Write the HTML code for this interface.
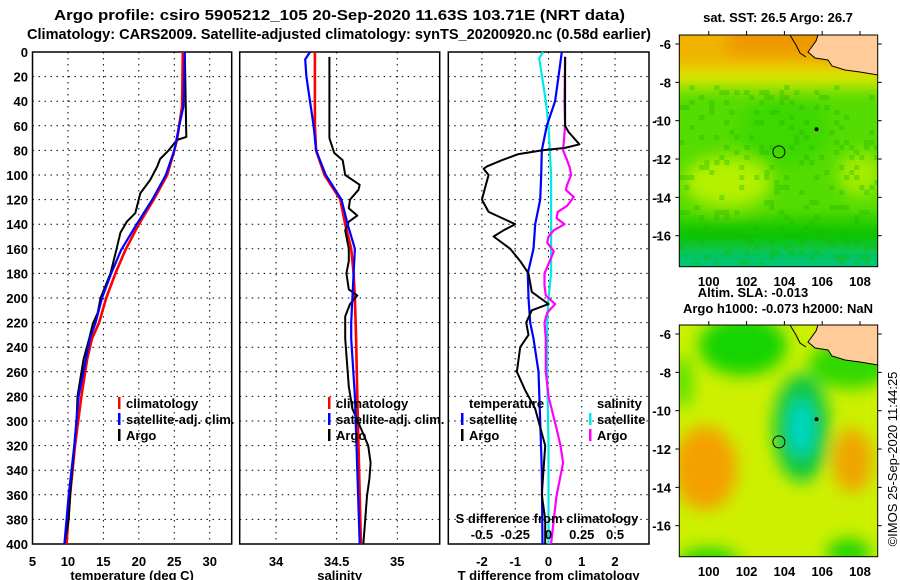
<!DOCTYPE html>
<html><head><meta charset="utf-8"><style>
html,body{margin:0;padding:0;background:#fff;}
svg{display:block;font-family:"Liberation Sans",sans-serif;}
</style></head><body>
<svg id="chart" width="900" height="580" viewBox="0 0 900 580" xmlns="http://www.w3.org/2000/svg">
<defs>
<filter id="bl" x="-20%" y="-20%" width="140%" height="140%"><feGaussianBlur stdDeviation="8"/></filter>
<clipPath id="c1"><rect x="679.3" y="35" width="198.4" height="231.7"/></clipPath>
<clipPath id="c2"><rect x="679.3" y="325" width="198.4" height="231.7"/></clipPath>
</defs>
<text x="54" y="20" font-size="15" font-weight="bold" textLength="571" lengthAdjust="spacingAndGlyphs">Argo profile: csiro 5905212_105 20-Sep-2020 11.63S 103.71E (NRT data)</text>
<text x="27" y="39" font-size="15" font-weight="bold" textLength="624" lengthAdjust="spacingAndGlyphs">Climatology: CARS2009. Satellite-adjusted climatology: synTS_20200920.nc (0.58d earlier)</text>
<g id="plots"></g>
<g id="maps"></g>
<text transform="translate(897,459) rotate(-90)" text-anchor="middle" font-size="13">©IMOS 25-Sep-2020 11:44:25</text>
</svg>
<script>
// ---- data ----
const depthTicks = [0,20,40,60,80,100,120,140,160,180,200,220,240,260,280,300,320,340,360,380,400];
const tempTicks = [5,10,15,20,25,30];
const salTicks = [34,34.5,35];
const salTickLabels = ["34","34.5","35"];
const diffTicks = [-2,-1,0,1,2];
const sDiffTicks = [-0.5,-0.25,0,0.25,0.5];
const sDiffTickLabels = ["-0.5","-0.25","0","0.25","0.5"];

const tClimDepth = [0,44,71,80,100,120,140,161,180,200,220,233,250,280,320,360,400];
const tClimVal = [26.2,26.1,25.4,25.0,24.0,22.1,20.0,18.1,16.7,15.4,14.4,13.4,12.7,11.9,11.0,10.3,9.8];
const tSatDepth = [0,44,60,80,100,120,140,161,180,200,220,233,280,320,360,400];
const tSatVal = [26.5,26.3,25.7,25.0,23.8,21.9,19.7,17.5,16.1,14.8,13.9,13.1,11.5,10.9,10.1,9.5];
const tArgoDepth = [4,69,71.5,80,87,93,104,115,131,138,147,164,180,200,212,221,233,250,280,300,320,340,360,380,400];
const tArgoVal = [26.5,26.7,25.4,24.2,23.0,22.6,21.6,20.2,19.5,18.3,17.4,16.7,16.0,14.6,14.2,13.5,13.0,12.2,11.35,11.2,10.9,10.6,10.3,10.1,9.5];

const sClimDepth = [0,60,80,100,120,140,160,180,200,233,280,320,400];
const sClimVal = [34.32,34.32,34.33,34.40,34.53,34.57,34.62,34.64,34.65,34.66,34.67,34.68,34.70];
const sSatDepth = [0,6,20,40,60,80,100,120,140,160,180,200,220,233,280,340,400];
const sSatVal = [34.28,34.24,34.25,34.28,34.31,34.33,34.41,34.54,34.59,34.65,34.64,34.63,34.62,34.62,34.65,34.67,34.69];
const sArgoDepth = [4,70,82,88,100,108,112,120,127,133,138,145,160,170,180,193,198,205,215,233,272,290,306,320,334,347,361,388,400];
const sArgoVal = [34.44,34.44,34.48,34.55,34.57,34.69,34.68,34.61,34.60,34.67,34.60,34.57,34.60,34.60,34.58,34.60,34.67,34.61,34.57,34.57,34.60,34.63,34.70,34.76,34.78,34.77,34.75,34.73,34.72];

const dTSatDepth = [0,20,40,60,80,100,120,140,160,180,200,220,233,260,300,340,400];
const dTSatVal = [0.40,0.30,0.20,-0.05,-0.20,-0.22,-0.25,-0.40,-0.45,-0.62,-0.60,-0.55,-0.45,-0.30,-0.25,-0.20,-0.18];
const dSSatDepth = [0,5,40,60,100,140,180,200,220,260,320,400];
const dSSatVal = [-0.04,-0.07,-0.02,0,0.02,0.02,0.02,0,-0.01,-0.01,0,0];
const dSArgoDepth = [4,40,60,80,88,94,100,108,112,118,125,130,135,140,145,150,155,162,170,180,190,198,205,212,220,233,260,280,306,320,334,361,380,400];
const dSArgoVal = [0.125,0.12,0.125,0.11,0.14,0.16,0.17,0.14,0.13,0.19,0.14,0.07,0.06,0.12,0.04,0.0,-0.01,0.04,0.01,-0.03,-0.03,-0.02,0.05,-0.01,-0.03,-0.02,-0.02,0,0.06,0.09,0.11,0.06,0.04,0.02];
const dTArgoDepth = [4,60,65,75,78,80,83,88,93,95,100,110,120,130,140,145,150,160,170,180,195,200,205,210,220,230,240,260,275,290,300,320,340,360,380,400];
const dTArgoVal = [0.5,0.5,0.6,0.93,0.5,-0.2,-0.9,-1.4,-1.85,-1.95,-1.8,-1.9,-2.0,-1.8,-1.0,-1.35,-1.65,-1.15,-0.85,-0.6,-0.5,-0.25,0,-0.5,-0.67,-0.6,-0.85,-0.95,-0.7,-0.4,-0.3,-0.1,-0.15,-0.2,-0.1,-0.1];

const mapLatTicks = [-6,-8,-10,-12,-14,-16];
const mapLonTicks = [100,102,104,106,108];
const argoLon = 103.71, argoLat = -11.63;

// ---- helpers ----
const NS = "http://www.w3.org/2000/svg";
function mk(tag, attrs, parent){const e=document.createElementNS(NS,tag);for(const k in attrs)e.setAttribute(k,attrs[k]);parent.appendChild(e);return e;}
const plots = document.getElementById('plots');
const TOP=52, BOT=544;
const yD = d => TOP + d*(BOT-TOP)/400;

const panels = [
 {name:'temperature', x0:32.5, x1:231.7, lo:5, hi:33.1, ticks:tempTicks, labels:tempTicks.map(String), xlabel:'temperature (deg C)'},
 {name:'salinity', x0:239.7, x1:439.7, lo:33.70, hi:35.35, ticks:salTicks, labels:salTickLabels, xlabel:'salinity'},
 {name:'difference', x0:448.3, x1:649, lo:-3.01, hi:3.02, ticks:diffTicks, labels:diffTicks.map(String), xlabel:'T difference from climatology'}
];
panels.forEach(p=>{ p.sx = v => p.x0 + (v-p.lo)*(p.x1-p.x0)/(p.hi-p.lo); });

panels.forEach((p,i)=>{
  const g = mk('g',{},plots);
  
  
  depthTicks.forEach(d=>{
    if(d>0 && d<400){
      const l=mk('line',{x1:p.x0,x2:p.x1,y1:yD(d),y2:yD(d),stroke:'#000','stroke-width':1,'stroke-dasharray':'1.5,4.5'},g);
      
      
    }
  });
  p.ticks.forEach((t,j)=>{
    const x=p.sx(t);
    if(x>p.x0+1 && x<p.x1-1){
      const l=mk('line',{x1:x,x2:x,y1:TOP,y2:BOT,stroke:'#000','stroke-width':1,'stroke-dasharray':'1.5,4.5'},g);
      
      
    }
    const tx=mk('text',{x:x,y:566,'text-anchor':'middle','font-size':13,'font-weight':'bold'},g);
    tx.textContent=p.labels[j];
    
    
  });
  const fr=mk('rect',{x:p.x0,y:TOP,width:p.x1-p.x0,height:BOT-TOP,fill:'none',stroke:'#000','stroke-width':1.5},g);
  
  
  const xl=mk('text',{x:(p.x0+p.x1)/2,y:580,'text-anchor':'middle','font-size':13,'font-weight':'bold'},g);
  xl.textContent=p.xlabel;
  
  
});
depthTicks.forEach(d=>{
  const t=mk('text',{x:28,y:yD(d)+5,'text-anchor':'end','font-size':13,'font-weight':'bold'},plots);
  t.textContent=String(d);
  
  
});

function series(p, depths, vals, color, name, w){
  const pts = depths.map((d,i)=>p.sx(vals[i]).toFixed(1)+','+yD(d).toFixed(1)).join(' ');
  const pl = mk('polyline',{points:pts,fill:'none',stroke:color,'stroke-width':w||2.2,'stroke-linejoin':'round'},plots);
  
  
}
const P1=panels[0],P2=panels[1],P3=panels[2];
series(P1,tClimDepth,tClimVal,'#ff0000','temp-climatology-line',2.6);
series(P1,tArgoDepth,tArgoVal,'#000','temp-argo-line',2);
series(P1,tSatDepth,tSatVal,'#0000ff','temp-satellite-line',2.2);
series(P2,sClimDepth,sClimVal,'#ff0000','sal-climatology-line',2.6);
series(P2,sArgoDepth,sArgoVal,'#000','sal-argo-line',2);
series(P2,sSatDepth,sSatVal,'#0000ff','sal-satellite-line',2.2);
const P3s = {sx: v => P3.sx(v*4)};
series(P3s,dSSatDepth,dSSatVal,'#00e8e8','s-diff-satellite-line',2.2);
series(P3s,dSArgoDepth,dSArgoVal,'#ff00ff','s-diff-argo-line',2.2);
series(P3,dTSatDepth,dTSatVal,'#0000ff','t-diff-satellite-line',2.2);
series(P3,dTArgoDepth,dTArgoVal,'#000','t-diff-argo-line',2);

const sdt=mk('text',{x:547,y:523,'text-anchor':'middle','font-size':13,'font-weight':'bold'},plots);
sdt.textContent='S difference from climatology';


sDiffTicks.forEach((s,j)=>{
  const t=mk('text',{x:P3s.sx(s),y:539,'text-anchor':'middle','font-size':13,'font-weight':'bold'},plots);
  t.textContent=sDiffTickLabels[j];
  
  
});
[121,160,199,237].forEach(y=>{
  const l=mk('line',{x1:655,x2:659,y1:y,y2:y,stroke:'#000','stroke-width':1},plots);
  
  
});

function legend(x,y,color,label){
  const g=mk('g',{},plots);
  
  
  if(color) mk('rect',{x:x,y:y-11,width:2.5,height:12,fill:color},g);
  const t=mk('text',{x:x+8,y:y,'font-size':13,'font-weight':'bold'},g);
  t.textContent=label;
}
[[118,'#ff0000','climatology'],[118,'#0000ff','satellite-adj. clim.'],[118,'#000','Argo']].forEach((e,i)=>legend(e[0],408+i*16,e[1],e[2]));
[[328,'#ff0000','climatology'],[328,'#0000ff','satellite-adj. clim.'],[328,'#000','Argo']].forEach((e,i)=>legend(e[0],408+i*16,e[1],e[2]));
legend(461,408,null,'temperature');
legend(461,424,'#0000ff','satellite');
legend(461,440,'#000','Argo');
legend(589,408,null,'salinity');
legend(589,424,'#00e8e8','satellite');
legend(589,440,'#ff00ff','Argo');

// ---- maps ----
const maps=document.getElementById('maps');
const MX0=679.3, MX1=877.7;
const mx = lon => MX0 + (lon-98.44)*18.9;
function drawMap(oy, clip, blobs, base, name, title, tY, speckle){
  const g=mk('g',{},maps);
  
  
  const my = lat => oy + 9 + (-6-lat)*19.17;
  const inner=mk('g',{'clip-path':'url(#'+clip+')'},g);
  mk('rect',{x:MX0,y:oy,width:MX1-MX0,height:231.7,fill:base},inner);
  const bg=mk('g',{filter:'url(#bl)'},inner);
  blobs.forEach(b=>{
    if(b.r) mk('rect',{x:mx(b.lon0),y:my(b.lat0),width:mx(b.lon1)-mx(b.lon0),height:my(b.lat1)-my(b.lat0),fill:b.c},bg);
    else mk('ellipse',{cx:mx(b.lon),cy:my(b.lat),rx:b.rx,ry:b.ry,fill:b.c},bg);
  });
  if(speckle){
    const sg=mk('g',{fill:'#1cb800'},inner);
    for(let i=0;i<40;i++)for(let j=10;j<46;j++){
      const h=((i*73856093)^(j*19349663))>>>0;
      if(h%7===0) mk('rect',{x:MX0+i*5,y:oy+j*5,width:5,height:5,opacity:0.35},sg);
    }
  }
  const land=[[818,0],[878,0],[878,40],[860,37],[845,35],[832,31],[828,25],[815,23],[808,17],[816,6]];
  const lp=mk('polygon',{points:land.map(p=>p[0]+','+(oy+p[1])).join(' '),fill:'#ffcc99',stroke:'#000','stroke-width':1},inner);
  
  
  mk('polyline',{points:[[790,0],[796,10],[800,18],[806,22]].map(p=>p[0]+','+(oy+p[1])).join(' '),fill:'none',stroke:'#000','stroke-width':1},inner);
  mk('circle',{cx:mx(105.7),cy:my(-10.45),r:2,fill:'#000'},inner);
  const mc=mk('circle',{cx:mx(argoLon),cy:my(argoLat),r:6,fill:'none',stroke:'#000','stroke-width':1},inner);
  
  
  mk('rect',{x:MX0,y:oy,width:MX1-MX0,height:231.7,fill:'none',stroke:'#000','stroke-width':1},g);
  mapLatTicks.forEach(l=>{
    const y=my(l);
    mk('line',{x1:MX0-4,x2:MX0,y1:y,y2:y,stroke:'#000'},g);
    mk('line',{x1:MX1,x2:MX1+4,y1:y,y2:y,stroke:'#000'},g);
    const t=mk('text',{x:671,y:y+5,'text-anchor':'end','font-size':13,'font-weight':'bold'},g);
    t.textContent=String(l);
    
    
  });
  mapLonTicks.forEach(l=>{
    const x=mx(l);
    mk('line',{x1:x,x2:x,y1:oy-4,y2:oy,stroke:'#000'},g);
    const t=mk('text',{x:x,y:oy+251,'text-anchor':'middle','font-size':13,'font-weight':'bold'},g);
    t.textContent=String(l);
    
    
  });
  const tt=mk('text',{x:778,y:tY,'text-anchor':'middle','font-size':13,'font-weight':'bold'},g);
  tt.textContent=title;
  
  
}
drawMap(35,'c1',[
  {r:1,lon0:97,lon1:110,lat0:-4,lat1:-8.3,c:'#d8e800'},
  {r:1,lon0:97,lon1:110,lat0:-4,lat1:-7.3,c:'#f0b400'},
  {r:1,lon0:101,lon1:110,lat0:-4,lat1:-6.6,c:'#ee9800'},
  {ell:1,lon:101,lat:-13.2,rx:44,ry:26,c:'#b4f000'},
  {ell:1,lon:108,lat:-12.8,rx:22,ry:22,c:'#a4ec00'},
  {ell:1,lon:104,lat:-10.5,rx:45,ry:35,c:'#3cd800'},
  {r:1,lon0:97,lon1:110,lat0:-15.2,lat1:-17,c:'#10c400'},
  {r:1,lon0:97,lon1:110,lat0:-16.9,lat1:-19,c:'#00c678'}
],'#55dc00','sst-map','sat. SST: 26.5 Argo: 26.7',22,true);
drawMap(325,'c2',[
  {ell:1,lon:99.8,lat:-13,rx:32,ry:42,c:'#f4a000'},
  {ell:1,lon:107.6,lat:-12.6,rx:20,ry:32,c:'#f0a400'},
  {ell:1,lon:101.8,lat:-6.6,rx:44,ry:30,c:'#18d400'},
  {ell:1,lon:107.5,lat:-7.6,rx:42,ry:24,c:'#30d800'},
  {ell:1,lon:98.6,lat:-8.5,rx:10,ry:26,c:'#55e000'},
  {ell:1,lon:104.9,lat:-10.9,rx:28,ry:54,c:'#10c840'},
  {ell:1,lon:104.9,lat:-10.9,rx:12,ry:28,c:'#00d8c8'},
  {ell:1,lon:100,lat:-17.8,rx:30,ry:12,c:'#20d400'},
  {ell:1,lon:107.4,lat:-17.4,rx:22,ry:14,c:'#20d400'}
],'#ccf000','sla-map','Argo h1000: -0.073 h2000: NaN',313,false);
const alt=mk('text',{x:753,y:297,'text-anchor':'middle','font-size':13,'font-weight':'bold'},maps);
alt.textContent='Altim. SLA: -0.013';


</script>
</body></html>
